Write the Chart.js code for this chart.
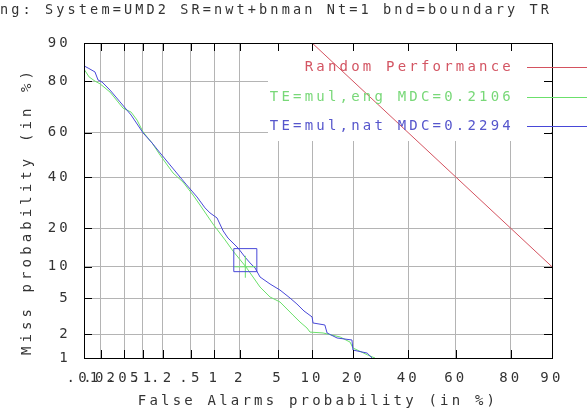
<!DOCTYPE html>
<html>
<head>
<meta charset="utf-8">
<script src="https://cdn.jsdelivr.net/npm/chart.js@4.4.1/dist/chart.umd.min.js"></script>
<style>
html, body { margin: 0; padding: 0; background: #fff; }
#det { display: block; }
</style>
</head>
<body>
<canvas id="det" width="587" height="413"></canvas>
<script>
const faTicks = [0.01, 0.02, 0.05, 0.1, 0.2, 0.5, 1, 2, 5, 10, 20, 40, 60, 80, 90]
const faTickLabels = ['.01', '.02', '.05', '.1', '.2', '.5', '1', '2', '5', '10', '20', '40', '60', '80', '90']
const missTicks = [1, 2, 5, 10, 20, 40, 60, 80, 90]
const missTickLabels = ['1', '2', '5', '10', '20', '40', '60', '80', '90']

const seriesLabels = ['Random Performance', 'TE=mul,eng MDC=0.2106', 'TE=mul,nat MDC=0.2294']
const seriesColors = ['#d4525f', '#6be06b', '#4848d8']
const textColors = ['#d35563', '#78d878', '#5656cc']

const randomFA = [10, 90]
const randomMiss = [90, 10]

const engFA = [0.01, 0.0124, 0.0158, 0.0195, 0.029, 0.048, 0.065, 0.081, 0.101, 0.139, 0.183, 0.282, 0.389, 0.532, 0.658, 0.963, 1.35, 1.67, 2.34, 3.30, 4.17, 5.21, 6.86, 7.91, 9.07, 9.61, 12.2, 16.3, 19.05, 19.9, 24.7, 27.1]
const engMiss = [83.7, 81.4, 80.1, 79.2, 76.4, 70.4, 68.8, 65.5, 60.3, 55.4, 49.9, 41.8, 37.8, 32.3, 28.3, 21.4, 16.5, 13.55, 9.96, 6.51, 5.18, 4.6, 3.33, 2.78, 2.37, 2.12, 2.07, 1.85, 1.60, 1.35, 1.09, 1.0]

const natFA = [0.01, 0.0119, 0.0158, 0.0179, 0.0211, 0.029, 0.0428, 0.065, 0.101, 0.139, 0.183, 0.256, 0.354, 0.427, 0.601, 0.763, 0.884, 1.08, 1.28, 1.46, 1.91, 2.28, 2.59, 2.93, 3.30, 4.17, 5.21, 6.45, 7.44, 8.56, 10.0, 10.17, 12.6, 13.1, 15.5, 19.6, 19.9, 24.4, 26.1]
const natMiss = [84.6, 84.0, 82.9, 80.45, 79.8, 77.1, 72.8, 67.6, 59.9, 55.4, 50.9, 45.4, 40.0, 36.9, 31.5, 27.2, 25.3, 23.5, 19.2, 17.05, 14.3, 12.1, 10.8, 9.76, 8.1, 6.96, 6.08, 5.06, 4.38, 3.69, 3.17, 2.71, 2.57, 2.07, 1.80, 1.70, 1.27, 1.16, 1.0]

const engMdcFA = [2.3]
const engMdcMiss = [10.0]
const natMdcFA = [2.3]
const natMdcMiss = [11.4]

// inverse normal cdf (Acklam)
function probit(p) {
  const a = [-3.969683028665376e+01, 2.209460984245205e+02, -2.759285104469687e+02, 1.383577518672690e+02, -3.066479806614716e+01, 2.506628277459239e+00]
  const b = [-5.447609879822406e+01, 1.615858368580409e+02, -1.556989798598866e+02, 6.680131188771972e+01, -1.328068155288572e+01]
  const c = [-7.784894002430293e-03, -3.223964580411365e-01, -2.400758277161838e+00, -2.549732539343734e+00, 4.374664141464968e+00, 2.938163982698783e+00]
  const d = [7.784695709041462e-03, 3.224671290700398e-01, 2.445134137142996e+00, 3.754408661907416e+00]
  const pl = 0.02425
  let q, r
  if (p < pl) {
    q = Math.sqrt(-2 * Math.log(p))
    return (((((c[0]*q+c[1])*q+c[2])*q+c[3])*q+c[4])*q+c[5]) / ((((d[0]*q+d[1])*q+d[2])*q+d[3])*q+1)
  }
  if (p > 1 - pl) {
    q = Math.sqrt(-2 * Math.log(1 - p))
    return -(((((c[0]*q+c[1])*q+c[2])*q+c[3])*q+c[4])*q+c[5]) / ((((d[0]*q+d[1])*q+d[2])*q+d[3])*q+1)
  }
  q = p - 0.5
  r = q * q
  return (((((a[0]*r+a[1])*r+a[2])*r+a[3])*r+a[4])*r+a[5])*q / (((((b[0]*r+b[1])*r+b[2])*r+b[3])*r+b[4])*r+1)
}

function toPoints(fa, miss) {
  return fa.map((v, i) => ({ x: probit(v / 100), y: probit(miss[i] / 100) }))
}

Chart.defaults.font.family = "'DejaVu Sans Mono', monospace"
Chart.defaults.font.size = 14
Chart.defaults.color = '#333'

const detDecor = {
  id: 'detDecor',
  beforeDraw(chart) {
    chart.ctx.letterSpacing = '3.2px'
  },
  beforeDatasetsDraw(chart) {
    const a = chart.chartArea
    const ctx = chart.ctx
    ctx.save()
    ctx.fillStyle = '#fff'
    ctx.fillRect(268, a.top + 1, a.right - 1 - 268, 140 - a.top)
    ctx.restore()
  },
  afterDraw(chart) {
    const ctx = chart.ctx
    const a = chart.chartArea
    const xs = chart.scales.x
    const ys = chart.scales.y
    ctx.save()
    ctx.strokeStyle = '#000'
    ctx.lineWidth = 1
    ctx.beginPath()
    faTicks.forEach(v => {
      const px = Math.round(xs.getPixelForValue(probit(v / 100))) + 0.5
      ctx.moveTo(px, a.bottom); ctx.lineTo(px, a.bottom - 8)
      ctx.moveTo(px, a.top); ctx.lineTo(px, a.top + 8)
    })
    missTicks.forEach(v => {
      const py = Math.round(ys.getPixelForValue(probit(v / 100))) + 0.5
      ctx.moveTo(a.left, py); ctx.lineTo(a.left + 8, py)
      ctx.moveTo(a.right, py); ctx.lineTo(a.right - 8, py)
    })
    ctx.stroke()
    ctx.strokeRect(Math.round(a.left) + 0.5, Math.round(a.top) + 0.5, Math.round(a.right - a.left), Math.round(a.bottom - a.top))

    ctx.font = "14px 'DejaVu Sans Mono'"
    ctx.textAlign = 'right'
    ctx.textBaseline = 'middle'
    const rows = [67, 97, 126]
    seriesLabels.forEach((t, i) => {
      ctx.fillStyle = textColors[i]
      ctx.fillText(t, 514, rows[i])
      ctx.strokeStyle = seriesColors[i]
      ctx.beginPath()
      ctx.moveTo(527, rows[i] + 0.5)
      ctx.lineTo(587, rows[i] + 0.5)
      ctx.stroke()
    })

    ctx.translate(27, 211)
    ctx.rotate(-Math.PI / 2)
    ctx.letterSpacing = '4.1px'
    ctx.textAlign = 'center'
    ctx.fillStyle = '#333'
    ctx.fillText('Miss probability (in %)', 0, 0)
    ctx.restore()
  }
}

const detChart = new Chart(document.getElementById('det'), {
  type: 'scatter',
  data: {
    datasets: [
      {
        label: 'nat MDC',
        data: toPoints(natMdcFA, natMdcMiss),
        pointStyle: 'rect',
        pointRadius: 16.3,
        pointBorderColor: seriesColors[2],
        pointBackgroundColor: 'rgba(0,0,0,0)',
        pointBorderWidth: 1
      },
      {
        label: 'eng MDC',
        data: toPoints(engMdcFA, engMdcMiss),
        pointStyle: 'cross',
        pointRadius: 11,
        pointBorderColor: seriesColors[1],
        pointBorderWidth: 1
      },
      {
        label: seriesLabels[2],
        data: toPoints(natFA, natMiss),
        showLine: true,
        borderColor: seriesColors[2],
        borderWidth: 1,
        pointRadius: 0
      },
      {
        label: seriesLabels[1],
        data: toPoints(engFA, engMiss),
        showLine: true,
        borderColor: seriesColors[1],
        borderWidth: 1,
        pointRadius: 0
      },
      {
        label: seriesLabels[0],
        data: toPoints(randomFA, randomMiss),
        showLine: true,
        borderColor: seriesColors[0],
        borderWidth: 1,
        pointRadius: 0
      }
    ]
  },
  options: {
    responsive: false,
    animation: false,
    layout: { padding: { left: 0, right: 35, top: 0, bottom: 0 } },
    plugins: {
      legend: { display: false },
      tooltip: { enabled: false },
      title: {
        display: true,
        text: 'ng: System=UMD2 SR=nwt+bnman Nt=1 bnd=boundary TR',
        color: '#333',
        font: { size: 14, weight: 'normal' },
        padding: { top: 2, bottom: 24.2 }
      }
    },
    scales: {
      x: {
        type: 'linear',
        min: probit(0.0001),
        max: probit(0.9),
        afterBuildTicks: s => { s.ticks = faTicks.map(v => ({ value: probit(v / 100) })) },
        afterFit: s => { s.height = 55 },
        ticks: {
          autoSkip: false,
          maxRotation: 0,
          padding: 12,
          color: '#333',
          callback: (val, i) => faTickLabels[i]
        },
        grid: { color: '#b4b4b4', drawTicks: false },
        border: { display: false },
        title: {
          display: true,
          text: 'False Alarms probability (in %)',
          color: '#333',
          padding: { top: 0, bottom: 3 }
        }
      },
      y: {
        type: 'linear',
        min: probit(0.01),
        max: probit(0.9),
        afterBuildTicks: s => { s.ticks = missTicks.map(v => ({ value: probit(v / 100) })) },
        afterFit: s => { s.width = 84 },
        ticks: {
          autoSkip: false,
          padding: 13,
          color: '#333',
          callback: (val, i) => missTickLabels[i]
        },
        grid: { color: '#b4b4b4', drawTicks: false },
        border: { display: false }
      }
    }
  },
  plugins: [detDecor]
})
</script>
</body>
</html>
